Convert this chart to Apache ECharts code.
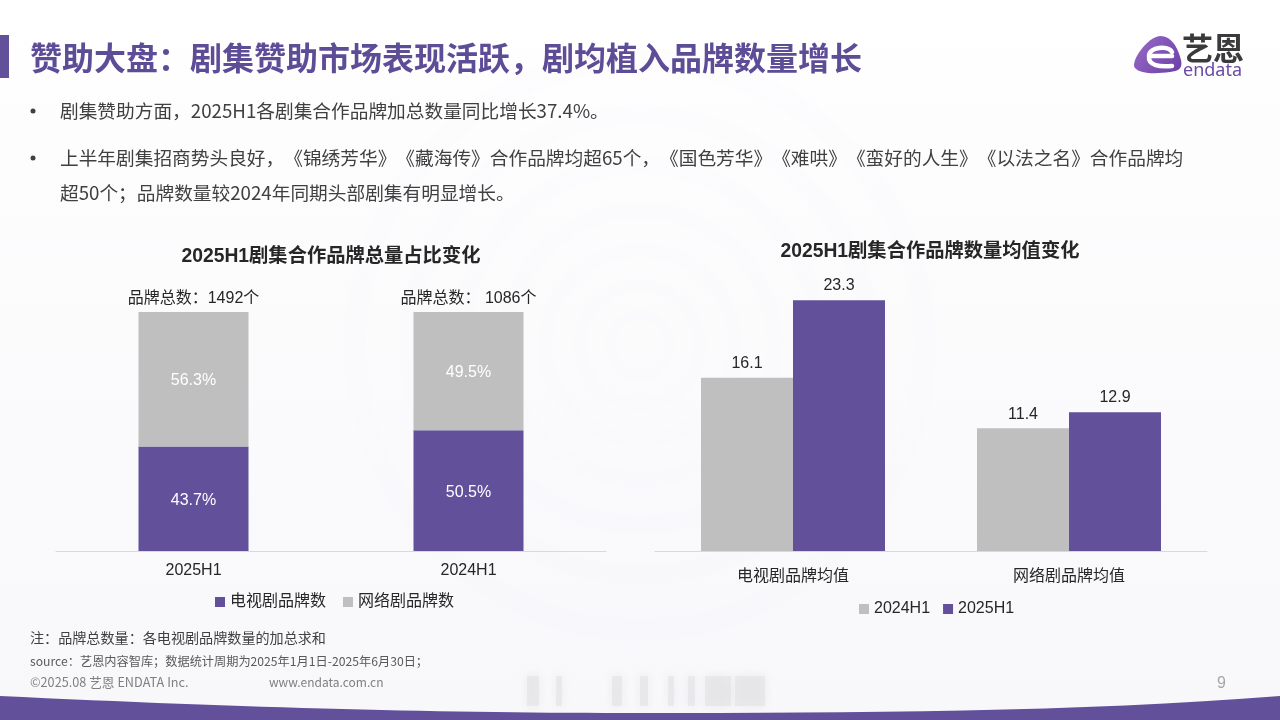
<!DOCTYPE html>
<html>
<head>
<meta charset="utf-8">
<style>
  html, body { margin: 0; padding: 0; background: #fff; }
  #main { width: 1280px; height: 720px; text-spacing-trim: space-all; }
</style>
<script src="https://cdn.jsdelivr.net/npm/echarts@6/dist/echarts.min.js"></script>
</head>
<body>
<div id="main"></div>
<script>
var FONT = '"Liberation Sans","Noto Sans CJK SC",sans-serif';
var PURPLE = '#62509b';
var GREY = '#bfbfbf';

// left chart
var shareCategories = ['2025H1', '2024H1'];
var tvShare = [43.7, 50.5];
var webShare = [56.3, 49.5];
var brandTotals = ['品牌总数：1492个', '品牌总数： 1086个'];

// right chart
var avgCategories = ['电视剧品牌均值', '网络剧品牌均值'];
var avg2024 = [16.1, 11.4];
var avg2025 = [23.3, 12.9];

var pageTitle = '赞助大盘：剧集赞助市场表现活跃，剧均植入品牌数量增长';
var bullets = [
  ['剧集赞助方面，2025H1各剧集合作品牌加总数量同比增长37.4%。', 111],
  ['上半年剧集招商势头良好，《锦绣芳华》《藏海传》合作品牌均超65个，《国色芳华》《难哄》《蛮好的人生》《以法之名》合作品牌均', 158],
  ['超50个；品牌数量较2024年同期头部剧集有明显增长。', 193]
];

// graphic component has no plain path type, so register the few we need
echarts.graphic.registerShape('bottomBand', echarts.graphic.extendPath(
  'M0 696 C250 708 450 713 640 713 C850 713 1080 712 1280 696 L1280 720 L0 720 Z', {}));
echarts.graphic.registerShape('logoBody', echarts.graphic.extendPath(
  'M1160 36 C1172 36 1178 48 1181 60 C1183 69 1178 71 1170 72 C1156 74 1140 74 1135 68 C1130 62 1147 37 1160 36 Z', {}));
echarts.graphic.registerShape('logoE', echarts.graphic.extendPath(
  'M1172 56 L1149 56 M1149 56 C1149 47 1168 45 1172 52 M1149 56 C1148 66 1160 67 1172 66', {}));

var chart = echarts.init(document.getElementById('main'), null, { width: 1280, height: 720 });

var decor = [];

// faint rings behind the charts
[30, 60, 95, 135, 180, 230, 285].forEach(function (r, i) {
  decor.push({
    type: 'circle', z: -10, silent: true,
    shape: { cx: 640, cy: 345, r: r },
    style: { fill: 'none', stroke: '#e6e4ea', lineWidth: 10 + i * 2, opacity: 0.06 }
  });
});

// blurred mark at the bottom
[[527, 12], [556, 6], [612, 10], [640, 8], [668, 6], [688, 7], [705, 26], [735, 30]].forEach(function (b) {
  decor.push({
    type: 'rect', z: -5, silent: true,
    shape: { x: b[0], y: 676, width: b[1], height: 30 },
    style: { fill: '#e2e2e4', opacity: 0.6, shadowBlur: 8, shadowColor: '#e2e2e4' }
  });
});

// title block
decor.push({ type: 'rect', shape: { x: 0, y: 35, width: 9, height: 43 }, style: { fill: PURPLE } });
decor.push({
  type: 'text', x: 30, y: 58,
  style: { text: pageTitle, fill: '#5d4c96', font: 'bold 32px "Noto Sans CJK SC"', textVerticalAlign: 'middle' }
});

// logo
decor.push({
  type: 'logoBody',
  style: {
    fill: new echarts.graphic.LinearGradient(0, 0, 1, 1, [
      { offset: 0, color: '#9a6cc8' },
      { offset: 1, color: '#6a3fa6' }
    ])
  }
});
decor.push({ type: 'logoE', style: { fill: 'none', stroke: '#fff', lineWidth: 4.5, lineCap: 'round' } });
decor.push({
  type: 'text', x: 1182, y: 48,
  style: { text: '艺恩', fill: '#3a3a3c', font: 'bold 31px "Noto Sans CJK SC"', textVerticalAlign: 'middle' }
});
decor.push({
  type: 'text', x: 1183, y: 71,
  style: { text: 'endata', fill: '#6b4aa5', font: '18px "Noto Sans"', textVerticalAlign: 'middle' }
});

// bullets
bullets.forEach(function (b) {
  decor.push({
    type: 'text', x: 60, y: b[1],
    style: { text: b[0], fill: '#404040', font: '18.7px "Noto Sans CJK SC"', textVerticalAlign: 'middle' }
  });
});
[111, 158].forEach(function (y) {
  decor.push({ type: 'circle', shape: { cx: 33, cy: y, r: 2.5 }, style: { fill: '#404040' } });
});

// footer notes
[
  ['注：品牌总数量：各电视剧品牌数量的加总求和', 30, 638, 14.1, '#404040'],
  ['source：艺恩内容智库；数据统计周期为2025年1月1日-2025年6月30日；', 30, 661, 12.2, '#595959'],
  ['©2025.08 艺恩 ENDATA Inc.', 30, 682, 12.7, '#7f7f7f'],
  ['www.endata.com.cn', 269, 682, 12, '#7f7f7f']
].forEach(function (t) {
  decor.push({
    type: 'text', x: t[1], y: t[2],
    style: { text: t[0], fill: t[4], font: t[3] + 'px "Noto Sans CJK SC"', textVerticalAlign: 'middle' }
  });
});
decor.push({
  type: 'text', x: 1217, y: 684,
  style: { text: '9', fill: '#a6a6a6', font: '16px "Liberation Sans"', textVerticalAlign: 'middle' }
});

// bottom band
decor.push({ type: 'bottomBand', style: { fill: PURPLE } });

var option = {
  backgroundColor: new echarts.graphic.LinearGradient(0, 0, 0, 1, [
    { offset: 0, color: '#ffffff' },
    { offset: 0.3, color: '#fcfcfd' },
    { offset: 1, color: '#f8f8fb' }
  ]),
  animation: false,
  textStyle: { fontFamily: FONT },
  graphic: decor,
  title: [
    {
      text: '2025H1剧集合作品牌总量占比变化', left: 326, top: 252, textAlign: 'center', textVerticalAlign: 'middle',
      textStyle: { fontSize: 19.3, fontWeight: 'bold', color: '#262626', fontFamily: FONT }
    },
    {
      text: '2025H1剧集合作品牌数量均值变化', left: 925, top: 247, textAlign: 'center', textVerticalAlign: 'middle',
      textStyle: { fontSize: 19.3, fontWeight: 'bold', color: '#262626', fontFamily: FONT }
    }
  ],
  legend: [
    {
      data: ['电视剧品牌数', '网络剧品牌数'], left: 210, top: 589, itemWidth: 10, itemHeight: 10, itemGap: 17,
      icon: 'rect', textStyle: { fontSize: 16, color: '#262626' }
    },
    {
      data: ['2024H1', '2025H1'], left: 854, top: 596, itemWidth: 10, itemHeight: 10, itemGap: 13,
      icon: 'rect', textStyle: { fontSize: 16, color: '#262626' }
    }
  ],
  grid: [
    { left: 56, top: 312, width: 550, height: 239 },
    { left: 655, top: 282, width: 552, height: 269 }
  ],
  xAxis: [
    {
      type: 'category', gridIndex: 0, data: shareCategories,
      axisTick: { show: false }, axisLine: { lineStyle: { color: '#d9d9d9' } },
      axisLabel: { fontSize: 16, color: '#262626', margin: 12 }
    },
    {
      type: 'category', gridIndex: 1, data: avgCategories,
      axisTick: { show: false }, axisLine: { lineStyle: { color: '#d9d9d9' } },
      axisLabel: { fontSize: 16, color: '#262626', margin: 18 }
    }
  ],
  yAxis: [
    { type: 'value', gridIndex: 0, min: 0, max: 100, show: false },
    { type: 'value', gridIndex: 1, min: 0, max: 25, show: false }
  ],
  series: [
    {
      name: '电视剧品牌数', type: 'bar', stack: 'share', xAxisIndex: 0, yAxisIndex: 0, barWidth: 110,
      data: tvShare, itemStyle: { color: PURPLE },
      label: { show: true, position: 'inside', offset: [0, 2], formatter: '{c}%', color: '#fff', fontSize: 16 }
    },
    {
      name: '网络剧品牌数', type: 'bar', stack: 'share', xAxisIndex: 0, yAxisIndex: 0, barWidth: 110,
      data: webShare, itemStyle: { color: GREY },
      label: { show: true, position: 'inside', offset: [0, 1], formatter: '{c}%', color: '#fff', fontSize: 16 }
    },
    {
      // zero-height bar on top of the stack, only carries the totals label
      name: '品牌总数', type: 'bar', stack: 'share', xAxisIndex: 0, yAxisIndex: 0, barWidth: 110,
      data: [0, 0], itemStyle: { color: 'transparent' }, silent: true,
      label: {
        show: true, position: 'top', distance: 5, color: '#262626', fontSize: 16,
        formatter: function (p) { return brandTotals[p.dataIndex]; }
      }
    },
    {
      name: '2024H1', type: 'bar', xAxisIndex: 1, yAxisIndex: 1, barWidth: 92, barGap: 0,
      data: avg2024, itemStyle: { color: GREY },
      label: { show: true, position: 'top', distance: 6, color: '#262626', fontSize: 16 }
    },
    {
      name: '2025H1', type: 'bar', xAxisIndex: 1, yAxisIndex: 1, barWidth: 92, barGap: 0,
      data: avg2025, itemStyle: { color: PURPLE },
      label: { show: true, position: 'top', distance: 7, color: '#262626', fontSize: 16 }
    }
  ]
};

chart.setOption(option);
</script>
</body>
</html>
